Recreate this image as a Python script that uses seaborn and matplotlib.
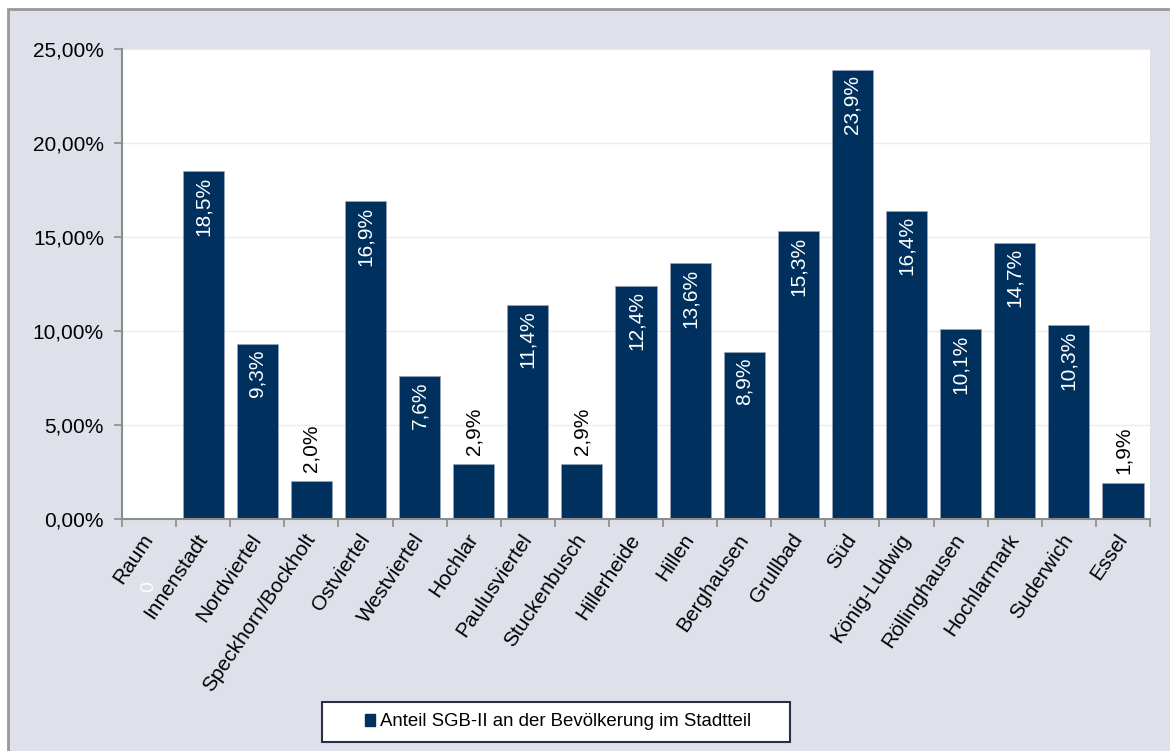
import matplotlib
matplotlib.use("Agg")
import matplotlib.pyplot as plt
import matplotlib.ticker as mticker
from matplotlib.patches import Rectangle, Patch
import seaborn as sns
import pandas as pd

# Stadtteile und Anteil SGB-II-Beziehender (in %)
stadtteile = ["Raum", "Innenstadt", "Nordviertel", "Speckhorn/Bockholt", "Ostviertel",
              "Westviertel", "Hochlar", "Paulusviertel", "Stuckenbusch", "Hillerheide",
              "Hillen", "Berghausen", "Grullbad", "Süd", "König-Ludwig",
              "Röllinghausen", "Hochlarmark", "Suderwich", "Essel"]
anteil = [0.0, 18.5, 9.3, 2.0, 16.9, 7.6, 2.9, 11.4, 2.9, 12.4,
          13.6, 8.9, 15.3, 23.9, 16.4, 10.1, 14.7, 10.3, 1.9]
serie = "Anteil SGB-II an der Bevölkerung im Stadtteil"
y_ticks = [0, 5, 10, 15, 20, 25]

df = pd.DataFrame({"Stadtteil": stadtteile, "Anteil": anteil})

sns.set_theme(style="white")
plt.rcParams["font.family"] = ["Liberation Sans", "DejaVu Sans"]
plt.rcParams["text.color"] = "black"
plt.rcParams["xtick.color"] = "black"
plt.rcParams["ytick.color"] = "black"

navy = "#00305e"
bg = "#dee1e9"
W, H = 1170, 751

fig = plt.figure(figsize=(W / 100, H / 100), dpi=100, facecolor="white")
# grey panel with a frame along the top and left edge
panel = Rectangle((8 / W, -0.05), 1.1, 1 - 9 / H + 0.05,
                  transform=fig.transFigure, facecolor=bg,
                  edgecolor="#999999", linewidth=2, zorder=-10)
fig.patches.append(panel)

ax = fig.add_axes([122 / W, 1 - 519 / H, 1028 / W, 470 / H])
ax.set_zorder(1)
ax.set_facecolor("white")

sns.barplot(data=df, x="Stadtteil", y="Anteil", color=navy, saturation=1,
            width=0.76, edgecolor="#9aa5b8", linewidth=0.5, ax=ax, zorder=3)

ax.set_xlim(-0.5, len(stadtteile) - 0.5)
ax.set_ylim(0, 25)
ax.set_yticks(y_ticks)
ax.yaxis.set_major_formatter(mticker.FuncFormatter(lambda v, p: f"{v:.2f}%".replace(".", ",")))
ax.grid(axis="y", color="#ececec", linewidth=1, zorder=0)
ax.set_axisbelow(True)

for side in ["top", "right"]:
    ax.spines[side].set_visible(False)
for side in ["left", "bottom"]:
    ax.spines[side].set_color("#8c8c8c")
    ax.spines[side].set_linewidth(1.5)
    ax.spines[side].set_zorder(4)

ax.tick_params(axis="y", which="major", length=6, width=1.2, color="#8c8c8c",
               labelsize=15, labelcolor="black", pad=7, left=True)
# tick marks between categories, labels centred under the bars
ax.set_xticks([i - 0.5 for i in range(len(stadtteile) + 1)], minor=True)
ax.tick_params(axis="x", which="minor", length=6, width=1.2, color="#8c8c8c", bottom=True)
ax.tick_params(axis="x", which="major", length=0, pad=12, labelsize=15, labelcolor="black")
ax.set_xlabel("")
ax.set_ylabel("")
for lbl in ax.get_xticklabels():
    lbl.set_rotation(56)
    lbl.set_rotation_mode("anchor")
    lbl.set_ha("right")
    lbl.set_va("center")

# value labels: inside the bar (white) or above short bars (black)
for i, v in enumerate(anteil):
    txt = f"{v:.1f}%".replace(".", ",")
    if v == 0:
        ax.annotate("0", (i, 0), xytext=(0, -45), textcoords="offset points",
                    rotation=90, ha="center", va="top", color="white",
                    fontsize=14, annotation_clip=False)
    elif v < 3:
        ax.annotate(txt, (i, v), xytext=(0, 6.5), textcoords="offset points",
                    rotation=90, ha="center", va="bottom", color="black",
                    fontsize=15)
    else:
        ax.annotate(txt, (i, v), xytext=(0, -4), textcoords="offset points",
                    rotation=90, ha="center", va="top", color="white",
                    fontsize=15, zorder=5)

# legend box below the axis
fig.patches.append(Rectangle((322 / W, 1 - 742 / H), 468 / W, 40 / H,
                             transform=fig.transFigure, facecolor="white",
                             edgecolor="#2b2f45", linewidth=1.5, zorder=2))
handle = Patch(facecolor=navy, edgecolor=navy)
leg = fig.legend([handle], [serie], loc="center", bbox_to_anchor=(558 / W, 1 - 722 / H),
                 frameon=False, fontsize=13.4, handlelength=0.55,
                 handleheight=0.55, handletextpad=0.3, borderpad=0,
                 borderaxespad=0)
leg.set_zorder(3)

fig.savefig("out.png", dpi=100, facecolor=fig.get_facecolor())
